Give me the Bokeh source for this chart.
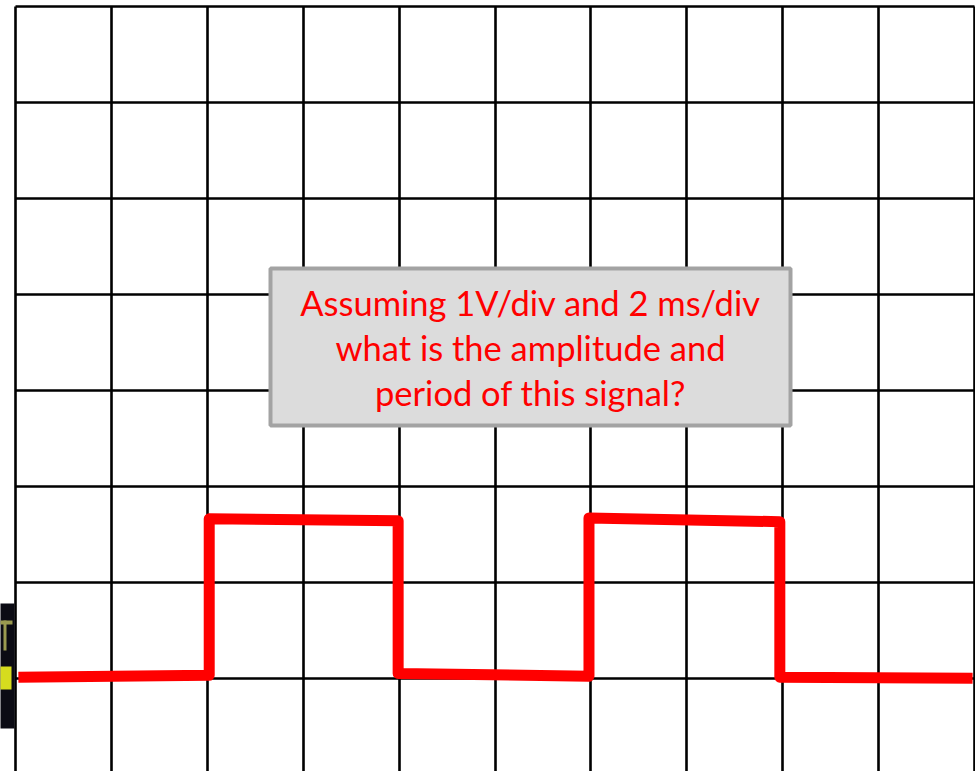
from bokeh.plotting import figure
from bokeh.models import Range1d, FixedTicker, BoxAnnotation, Label
from bokeh.embed import file_html
from bokeh.resources import INLINE

# grid divisions (10 horizontal x 8 vertical)
x_divs = list(range(0, 11))
y_divs = list(range(-1, 8))

# square-wave trace, in divisions
wave_x = [0.03, 2.02, 2.02, 3.99, 3.99, 5.98, 5.98, 7.97, 7.97, 9.98]
wave_y = [0.01, 0.03, 1.66, 1.64, 0.05, 0.02, 1.67, 1.63, 0.01, 0.00]

question_lines = [
    "Assuming 1V/div and 2 ms/div",
    "what is the amplitude and",
    "period of this signal?",
]

W, H = 975, 771
DX, DY = 95.9, 96.0
X0, Y0 = 15.0, 677.7   # pixel position of division (0, 0)


def px_x(px):
    return (px - X0) / DX


def px_y(py):
    return (Y0 - py) / DY


p = figure(width=W, height=H, output_backend="svg", toolbar_location=None,
           x_range=Range1d(px_x(0), px_x(W)),
           y_range=Range1d(px_y(H), px_y(0)),
           min_border=0)
p.axis.visible = False
p.outline_line_color = None
p.background_fill_color = "white"
p.border_fill_color = "white"

p.xgrid.ticker = FixedTicker(ticks=x_divs)
p.ygrid.ticker = FixedTicker(ticks=y_divs)
p.xgrid.cross_bounds = (px_y(H + 5), max(y_divs))
p.ygrid.cross_bounds = (min(x_divs), max(x_divs))
for g in (p.xgrid, p.ygrid):
    g.grid_line_color = "black"
    g.grid_line_width = 2.6
    g.grid_line_alpha = 1.0

# dark picture fragment at left edge
p.add_layout(BoxAnnotation(left=px_x(-5), right=px_x(14), top=px_y(603), bottom=px_y(728),
                           fill_color="#0b0b14", fill_alpha=1.0, line_color=None, level="underlay"))
p.add_layout(BoxAnnotation(left=px_x(-5), right=px_x(11), top=px_y(666), bottom=px_y(689),
                           fill_color="#d6dc1e", fill_alpha=1.0, line_color=None, level="underlay"))
p.add_layout(BoxAnnotation(left=px_x(-5), right=px_x(12), top=px_y(620), bottom=px_y(624),
                           fill_color="#9a9a50", fill_alpha=1.0, line_color=None, level="underlay"))
p.add_layout(BoxAnnotation(left=px_x(3), right=px_x(6), top=px_y(620), bottom=px_y(650),
                           fill_color="#9a9a50", fill_alpha=1.0, line_color=None, level="underlay"))

p.line(wave_x, wave_y, line_color="#FF0000", line_width=11, line_join="round", line_cap="butt")

# question box
p.add_layout(BoxAnnotation(left=px_x(270), right=px_x(790),
                           top=px_y(268), bottom=px_y(425),
                           fill_color="#DCDCDC", fill_alpha=1.0,
                           line_color="#A3A3A3", line_alpha=1.0, line_width=4,
                           level="overlay"))
cx = px_x((269 + 791) / 2)
for i, t in enumerate(question_lines):
    p.add_layout(Label(x=cx, y=px_y(301.5 + 45 * i), text=t,
                       text_align="center", text_baseline="alphabetic",
                       text_color="#FF0000", text_font="Lato",
                       text_font_size="34.5px", level="overlay"))

open("out.html", "w").write(file_html(p, INLINE))
